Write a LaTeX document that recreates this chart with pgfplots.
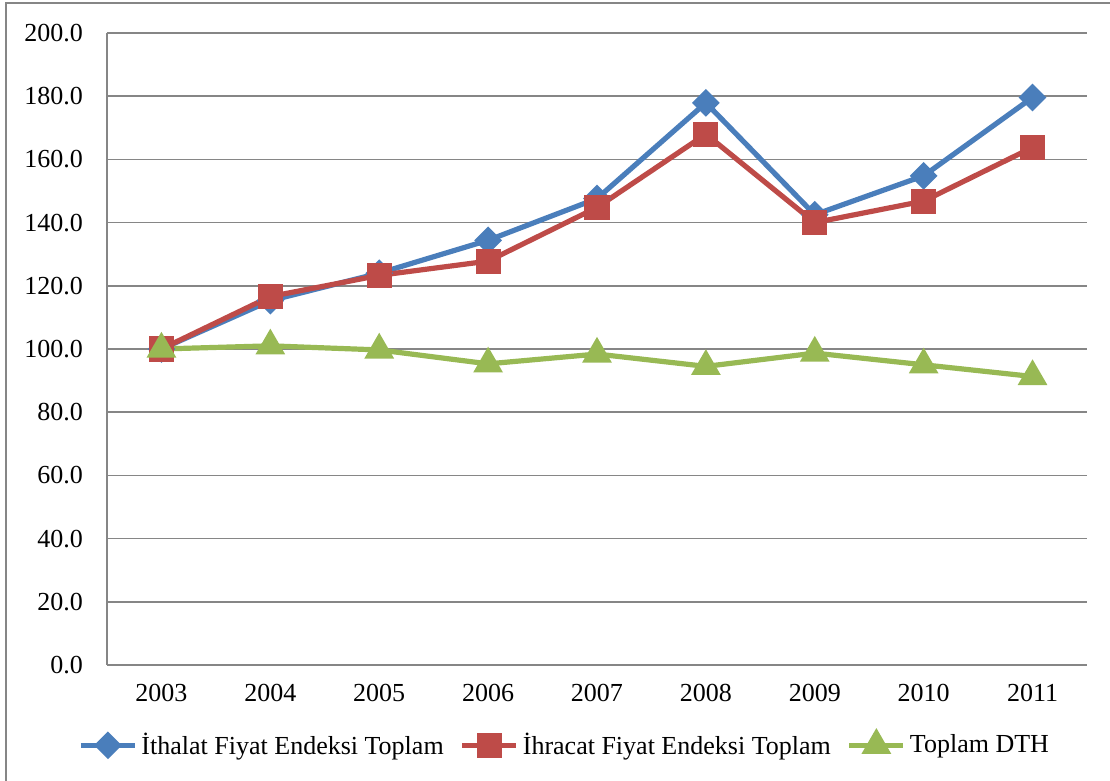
\documentclass[border=0pt]{standalone}
\usepackage{fontspec}
\setmainfont{Liberation Serif}
\usepackage{pgfplots}
\pgfplotsset{compat=1.18}
\definecolor{cblue}{HTML}{4A7EBB}
\definecolor{cred}{HTML}{BE4B48}
\definecolor{cgreen}{HTML}{98B954}
\definecolor{cgrid}{HTML}{868686}
\begin{document}
\begin{tikzpicture}
\fontsize{13}{15.6}\selectfont
\useasboundingbox (0pt,0pt) rectangle (555pt,390.5pt);
\draw[cgrid, line width=0.8pt] (3pt,-10pt) rectangle (570pt,389pt);
\begin{axis}[
  at={(53.5pt,58pt)}, anchor=south west,
  scale only axis,
  width=490pt, height=316pt,
  xmin=-0.5, xmax=8.5,
  ymin=0, ymax=200,
  xtick={0,...,8},
  xticklabels={2003,2004,2005,2006,2007,2008,2009,2010,2011},
  ytick={0,20,...,200},
  axis x line*=bottom, axis y line*=left,
  axis line style={cgrid, line width=0.8pt, -},
  ymajorgrids, grid style={cgrid, line width=0.8pt},
  major tick length=0pt,
  tick label style={font=\fontsize{13}{15.6}\selectfont},
  /pgf/number format/assume math mode=true,
  yticklabel={\pgfmathprintnumber[fixed, fixed zerofill, precision=1]{\tick}},
  yticklabel style={xshift=-7.5pt},
  xticklabel style={yshift=-5pt},
  legend columns=3,
  legend style={draw=none, at={(0.468,-0.127)}, anchor=center,
    font=\fontsize{13}{15.6}\selectfont,
    /tikz/every even column/.append style={column sep=6pt},
    inner sep=0pt},
  legend image code/.code={
    \draw[#1, mark=none] (0pt,0pt) -- (27pt,0pt);
    \draw[#1] plot coordinates {(13.5pt,0pt)};
  },
  every axis plot/.append style={line width=2.6pt},
]
\addplot[cblue, mark=square*, mark size=3.6pt, mark options={rotate=45}] coordinates {
 (0,100) (1,115.3) (2,124.0) (3,134.4) (4,147.6) (5,177.9) (6,142.5) (7,154.8) (8,179.6)};
\addlegendentry{İthalat Fiyat Endeksi Toplam}
\addplot[cred, mark=square*, mark size=5pt] coordinates {
 (0,100) (1,116.6) (2,123.3) (3,127.8) (4,144.8) (5,168.0) (6,140.0) (7,146.8) (8,163.8)};
\addlegendentry{İhracat Fiyat Endeksi Toplam}
\addplot[cgreen, mark=triangle*, mark size=6pt] coordinates {
 (0,100) (1,101.0) (2,99.7) (3,95.3) (4,98.4) (5,94.5) (6,98.7) (7,95.0) (8,91.3)};
\addlegendentry{Toplam DTH}
\end{axis}
\end{tikzpicture}
\end{document}
